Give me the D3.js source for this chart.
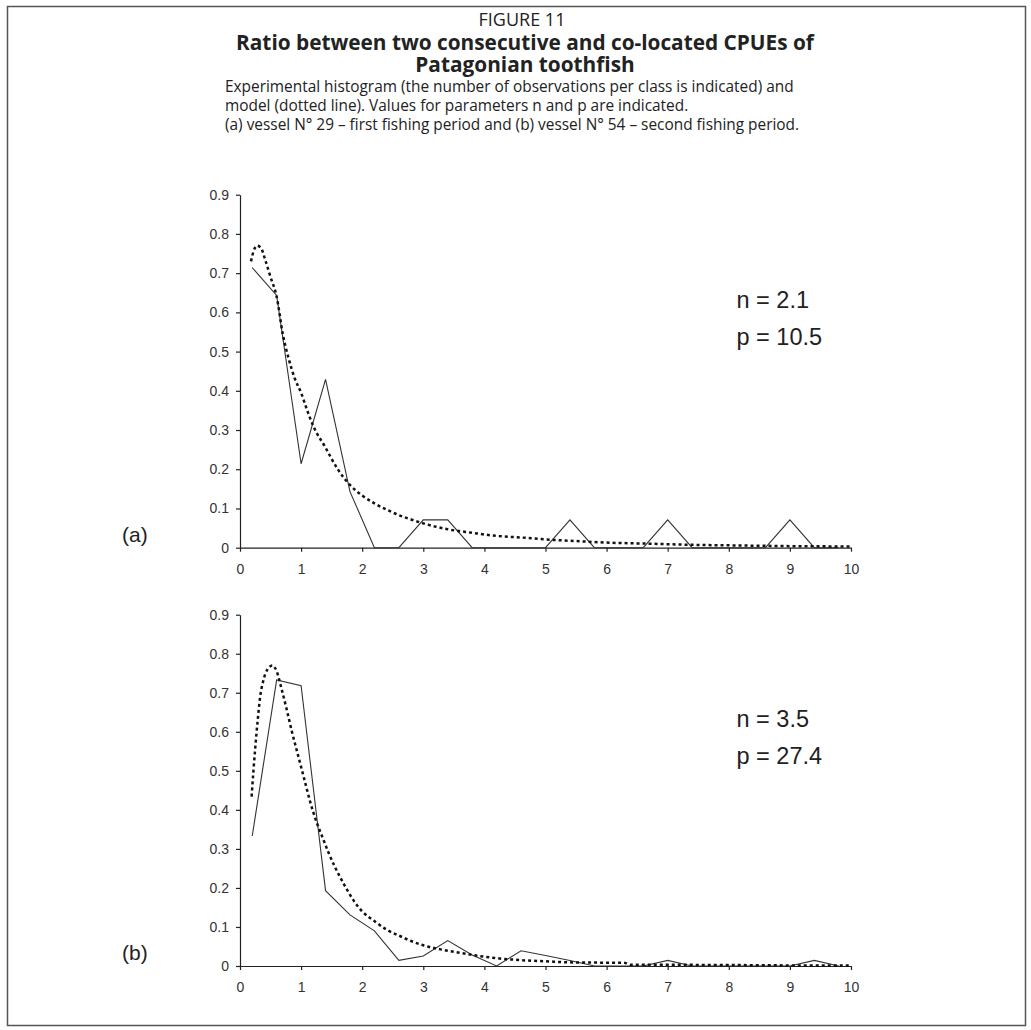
<!DOCTYPE html>
<html>
<head>
<meta charset="utf-8">
<script src="https://cdn.jsdelivr.net/npm/d3@7/dist/d3.min.js"></script>
<style>
  html, body { margin: 0; padding: 0; background: #fff; }
  svg { display: block; }
</style>
</head>
<body>
<script>
// ---------- data ----------
const classMids = [0.2,0.6,1.0,1.4,1.8,2.2,2.6,3.0,3.4,3.8,4.2,4.6,5.0,5.4,5.8,6.2,6.6,7.0,7.4,7.8,8.2,8.6,9.0,9.4,9.8];
const histA = [0.714,0.643,0.214,0.429,0.143,0,0,0.071,0.071,0,0,0,0,0.071,0,0,0,0.071,0,0,0,0,0.071,0,0];
const histB = [0.333,0.733,0.718,0.193,0.131,0.090,0.0145,0.0256,0.065,0.028,0,0.039,0.027,0.014,0,0,0,0.0145,0,0,0,0,0,0.0145,0];

const modelAX = [0.18,0.22,0.28,0.34,0.42,0.5,0.6,0.7,0.8,0.9,1.0,1.1,1.2,1.4,1.6,1.8,2.0,2.2,2.4,2.6,2.8,3.0,3.4,3.8,4.2,4.6,5.0,5.5,6.0,6.5,7.0,7.5,8.0,8.5,9.0,9.5,10];
const modelAY = [0.73,0.755,0.77,0.765,0.73,0.69,0.64,0.545,0.48,0.43,0.395,0.35,0.31,0.255,0.2,0.16,0.133,0.113,0.097,0.083,0.072,0.062,0.047,0.038,0.03,0.026,0.021,0.017,0.013,0.011,0.009,0.007,0.006,0.005,0.004,0.0035,0.003];

const modelBX = [0.19,0.22,0.25,0.29,0.33,0.38,0.45,0.53,0.6,0.68,0.76,0.85,0.95,1.05,1.15,1.25,1.35,1.45,1.55,1.7,1.85,2.0,2.2,2.4,2.6,2.8,3.0,3.3,3.6,3.9,4.2,4.6,5.0,5.5,6.0,6.3,6.4,7,8,9,10];
const modelBY = [0.434,0.5,0.56,0.63,0.69,0.73,0.76,0.77,0.755,0.71,0.66,0.6,0.54,0.48,0.42,0.37,0.33,0.29,0.255,0.21,0.17,0.14,0.115,0.093,0.078,0.064,0.053,0.042,0.034,0.026,0.02,0.015,0.012,0.009,0.0085,0.008,0.003,0.003,0.0025,0.0015,0.001];

const xTicks = [0,1,2,3,4,5,6,7,8,9,10];
const yTicks = [0,0.1,0.2,0.3,0.4,0.5,0.6,0.7,0.8,0.9];

const panels = [
  {label: "(a)", hist: histA, mx: modelAX, my: modelAY, params: ["n = 2.1", "p = 10.5"]},
  {label: "(b)", hist: histB, mx: modelBX, my: modelBY, params: ["n = 3.5", "p = 27.4"]}
];

const figureLabel = "FIGURE 11";
const titleLines = ["Ratio between two consecutive and co-located CPUEs of", "Patagonian toothfish"];
const subLines = [
  "Experimental histogram (the number of observations per class is indicated) and",
  "model (dotted line). Values for parameters n and p are indicated.",
  "(a) vessel N\u00B0 29 \u2013 first fishing period and (b) vessel N\u00B0 54 \u2013 second fishing period."
];

// ---------- layout ----------
const W = 1031, H = 1030;
const svg = d3.select("body").append("svg").attr("width", W).attr("height", H);
svg.append("rect").attr("width", W).attr("height", H).attr("fill", "#fff");

// frame
svg.append("rect").attr("x", 7.5).attr("y", 6.5).attr("width", 1018).attr("height", 1019)
  .attr("fill", "none").attr("stroke", "#555").attr("stroke-width", 1.5);

const titleFont = "'Open Sans', 'Noto Sans', sans-serif";
svg.append("text").attr("x", 522).attr("y", 26).attr("text-anchor", "middle")
  .attr("font-family", titleFont).attr("font-size", 18).attr("fill", "#222").text(figureLabel);
titleLines.forEach((t, i) => {
  svg.append("text").attr("x", 525).attr("y", 50 + i * 22).attr("text-anchor", "middle")
    .attr("font-family", titleFont).attr("font-weight", "bold").attr("font-size", 20.8)
    .attr("fill", "#222").text(t);
});
subLines.forEach((t, i) => {
  svg.append("text").attr("x", 225).attr("y", 92 + i * 19)
    .attr("font-family", titleFont).attr("font-size", 15.4).attr("fill", "#222").text(t);
});

const x = d3.scaleLinear().domain([0, 10]).range([240, 851]);
const plotTops = [194.7, 614.7];
const plotBottoms = [547.7, 966];
const chartFont = "'Liberation Sans', Arial, sans-serif";

panels.forEach((p, k) => {
  const y = d3.scaleLinear().domain([0, 0.9]).range([plotBottoms[k], plotTops[k]]);
  const g = svg.append("g");

  const xAxis = g.append("g").attr("transform", `translate(0,${y(0)})`)
    .call(d3.axisBottom(x).tickValues(xTicks).tickSize(4).tickSizeOuter(0).tickPadding(12).tickFormat(d3.format("d")));
  const yAxis = g.append("g").attr("transform", `translate(${x(0)},0)`)
    .call(d3.axisLeft(y).tickValues(yTicks).tickSize(4).tickSizeOuter(0).tickPadding(7).tickFormat(d => d === 0 ? "0" : d3.format(".1f")(d)));
  [xAxis, yAxis].forEach(a => {
    a.selectAll("path, line").attr("stroke", "#222").attr("stroke-width", 1.2);
    a.selectAll("text").attr("font-family", chartFont).attr("font-size", 14).attr("fill", "#333");
  });

  // experimental histogram (solid)
  const solid = d3.line().x(d => x(d[0])).y(d => y(d[1]));
  g.append("path").datum(classMids.map((m, i) => [m, p.hist[i]]))
    .attr("d", solid).attr("fill", "none").attr("stroke", "#333").attr("stroke-width", 1.1);

  // model (dotted)
  const model = d3.line().curve(d3.curveMonotoneX).x(d => x(d[0])).y(d => y(d[1]));
  g.append("path").datum(p.mx.map((v, i) => [v, p.my[i]]))
    .attr("d", model).attr("fill", "none").attr("stroke", "#111")
    .attr("stroke-width", 2.5).attr("stroke-dasharray", "3,3");

  // parameters
  p.params.forEach((t, i) => {
    g.append("text").attr("x", 736.5).attr("y", (k === 0 ? 308 : 727) + i * 37)
      .attr("font-family", chartFont).attr("font-size", 23.5).attr("fill", "#222").text(t);
  });

  // panel label
  g.append("text").attr("x", 122).attr("y", k === 0 ? 542 : 960)
    .attr("font-family", chartFont).attr("font-size", 21).attr("fill", "#222").text(p.label);
});
</script>
</body>
</html>
